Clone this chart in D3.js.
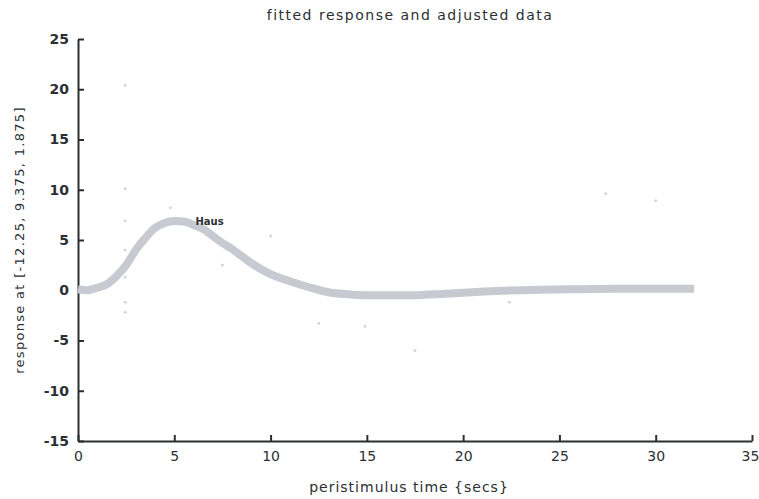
<!DOCTYPE html>
<html>
<head>
<meta charset="utf-8">
<script src="https://cdn.jsdelivr.net/npm/d3@7"></script>
<style>
  body { margin: 0; background: #fff; }
  text { font-family: "DejaVu Sans", Verdana, sans-serif; fill: #2b2f33; }
</style>
</head>
<body>
<div id="chart"></div>
<script>
// fitted response (peristimulus time in secs, response)
var fitTime = [0, 0.5, 1, 1.5, 2, 2.5, 3, 3.5, 4, 4.5, 5, 5.5, 6, 6.5, 7, 7.5, 8, 8.5, 9, 10, 11, 12, 13, 14, 15, 16, 17, 18, 20, 22, 24, 26, 28, 30, 32]
var fitResp = [0.1, 0.0, 0.25, 0.6, 1.4, 2.5, 4.0, 5.2, 6.2, 6.7, 6.9, 6.85, 6.5, 6.1, 5.4, 4.7, 4.1, 3.4, 2.7, 1.6, 0.9, 0.3, -0.2, -0.4, -0.5, -0.5, -0.5, -0.45, -0.25, -0.05, 0.05, 0.1, 0.15, 0.15, 0.15]

// adjusted data points
var dataTime = [2.45, 2.45, 2.45, 2.45, 2.45, 2.45, 2.45, 4.8, 7.5, 10, 12.5, 14.9, 17.5, 22.4, 27.4, 30]
var dataResp = [20.4, 10.1, 6.9, 4.0, 1.3, -1.2, -2.2, 8.2, 2.5, 5.4, -3.3, -3.6, -6.0, -1.2, 9.6, 8.9]

var xTicks = [0, 5, 10, 15, 20, 25, 30, 35]
var yTicks = [-15, -10, -5, 0, 5, 10, 15, 20, 25]

var margin = { top: 39, right: 7, bottom: 58, left: 78 }
    w = 759 - margin.left - margin.right
    h = 499 - margin.top - margin.bottom

var svg = d3.select("#chart").append("svg")
    .attr("width", 759)
    .attr("height", 499)

var g = svg.append("g")
    .attr("transform", "translate(" + margin.left + "," + margin.top + ")")

var x = d3.scaleLinear().domain([0, 35]).range([0, w])
var y = d3.scaleLinear().domain([-15, 25]).range([h, 0])

// axes, ticks pointing inward (plain hyphen for negatives)
var xAxis = g.append("g")
    .attr("transform", "translate(0," + h + ")")
    .call(d3.axisTop(x).tickValues(xTicks).tickSize(6).tickSizeOuter(0).tickFormat(function(d) { return String(d) }))
xAxis.selectAll("text")
    .attr("y", 10)
    .attr("dy", "0.71em")
    .attr("dx", function(d) { return d == 35 ? -2 : 0 })
    .style("font-size", "14px")

var yAxis = g.append("g")
    .call(d3.axisRight(y).tickValues(yTicks).tickSize(6).tickSizeOuter(0).tickFormat(function(d) { return String(d) }))
yAxis.selectAll("text")
    .attr("x", -9)
    .attr("text-anchor", "end")
    .style("font-size", "14px")
    .style("font-weight", "bold")

g.selectAll(".domain, .tick line")
    .attr("stroke", "#2b2f33")
    .attr("stroke-width", 2)

// fitted curve
var line = d3.line()
    .x(function(d, i) { return x(fitTime[i]) })
    .y(function(d) { return y(d) })
    .curve(d3.curveMonotoneX)

g.append("path")
    .datum(fitResp)
    .attr("d", line)
    .attr("fill", "none")
    .attr("stroke", "#c7cbd1")
    .attr("stroke-width", 8)
    .attr("stroke-linecap", "butt")

// adjusted data
g.selectAll("circle.pt")
    .data(dataResp)
    .enter()
    .append("circle")
        .attr("class", "pt")
        .attr("cx", function(d, i) { return x(dataTime[i]) })
        .attr("cy", function(d) { return y(d) })
        .attr("r", 1.4)
        .attr("fill", "#8a8f96")
        .attr("opacity", 0.4)

// label at peak
g.append("text")
    .attr("x", x(6.1))
    .attr("y", y(6.9) + 4)
    .style("font-size", "10px")
    .style("font-weight", "bold")
    .text("Haus")

// titles
svg.append("text")
    .attr("x", 410)
    .attr("y", 20)
    .attr("text-anchor", "middle")
    .style("font-size", "14px")
    .style("letter-spacing", "1.5px")
    .text("fitted response and adjusted data")

svg.append("text")
    .attr("x", 409)
    .attr("y", 492)
    .attr("text-anchor", "middle")
    .style("font-size", "14px")
    .style("letter-spacing", "1px")
    .text("peristimulus time {secs}")

svg.append("text")
    .attr("transform", "translate(24,240) rotate(-90)")
    .attr("text-anchor", "middle")
    .style("font-size", "13px")
    .style("letter-spacing", "1.3px")
    .text("response at [-12.25, 9.375, 1.875]")
</script>
</body>
</html>
